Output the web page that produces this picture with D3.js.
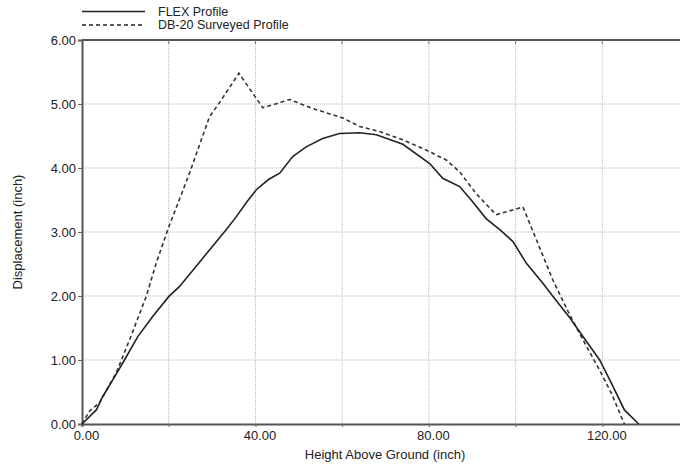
<!DOCTYPE html>
<html>
<head>
<meta charset="utf-8">
<script src="https://cdn.jsdelivr.net/npm/d3@7"></script>
<style>
  body { margin: 0; background: #fff; overflow: hidden; }
  svg { display: block; font-family: "Liberation Sans", Arial, sans-serif; }
</style>
</head>
<body>
<div id="chart"></div>
<script>
// FLEX profile (solid)
const flexHeight = [0, 3.3, 4.8, 7.1, 9.8, 12.9, 16.3, 20.0, 22.5, 26.3, 29.4, 33.3, 35.6, 38, 40.2, 43, 45.6, 48.6, 51.7, 55.5, 59.4, 64, 67.9, 74, 80.2, 83.2, 87.1, 90, 93.2, 96.5, 99.4, 102.5, 106.3, 109, 112.5, 115.5, 119.4, 122.1, 125.1, 128.4];
const flexDisp = [0, 0.22, 0.43, 0.69, 1.0, 1.37, 1.68, 1.99, 2.15, 2.46, 2.72, 3.04, 3.24, 3.47, 3.66, 3.82, 3.92, 4.18, 4.33, 4.46, 4.54, 4.55, 4.52, 4.37, 4.07, 3.84, 3.71, 3.48, 3.21, 3.03, 2.85, 2.51, 2.2, 1.96, 1.66, 1.37, 1.0, 0.64, 0.22, 0];

// DB-20 surveyed profile (dashed)
const surveyHeight = [0, 1.7, 4, 7.9, 11, 14.8, 17.1, 19.8, 24.8, 29.4, 31.3, 36.2, 41.7, 47.9, 53.2, 60.2, 64, 68.6, 74, 79.4, 84, 87.1, 90.9, 95.5, 101.7, 104.8, 108.6, 112.1, 115.5, 119.4, 122.1, 125.1];
const surveyDisp = [0, 0.2, 0.33, 0.8, 1.32, 1.99, 2.51, 3.04, 3.92, 4.80, 4.98, 5.48, 4.94, 5.07, 4.93, 4.78, 4.65, 4.57, 4.44, 4.28, 4.125, 3.94, 3.6, 3.27, 3.39, 2.88, 2.25, 1.76, 1.32, 0.84, 0.48, 0];

const xTicks = [0, 20, 40, 60, 80, 100, 120];
const xLabelTicks = [0, 40, 80, 120];
const yTicks = [0, 1, 2, 3, 4, 5, 6];

const seriesNames = ["FLEX Profile", "DB-20 Surveyed Profile"];

const margin = { top: 40, right: 0, bottom: 41, left: 82 };
const width = 607;
const height = 384;

const svg = d3.select("#chart")
    .append("svg")
    .attr("width", 680)
    .attr("height", 465);

const g = svg.append("g")
    .attr("transform", `translate(${margin.left},${margin.top})`);

const x = d3.scaleLinear().domain([0, 140]).range([0, width]);
const y = d3.scaleLinear().domain([0, 6]).range([height, 0]);

// grid
g.selectAll(".vgrid")
    .data(xTicks.filter(d => d > 0))
    .enter().append("line")
    .attr("x1", d => x(d)).attr("x2", d => x(d))
    .attr("y1", 0).attr("y2", height)
    .attr("stroke", "#b5b5b5")
    .attr("stroke-dasharray", "1,1");

g.selectAll(".hgrid")
    .data(yTicks.filter(d => d > 0 && d < 6))
    .enter().append("line")
    .attr("x1", 0).attr("x2", width)
    .attr("y1", d => y(d)).attr("y2", d => y(d))
    .attr("stroke", "#b5b5b5")
    .attr("stroke-dasharray", "1,1");

// axes
const yAxis = g.append("g")
    .call(d3.axisLeft(y).tickValues(yTicks).tickFormat(d3.format(".2f")).tickSize(4).tickPadding(2));

const xAxis = g.append("g")
    .attr("transform", `translate(0,${height})`)
    .call(d3.axisBottom(x).tickValues(xTicks).tickSize(3).tickPadding(4)
        .tickFormat(d => xLabelTicks.includes(d) ? d3.format(".2f")(d) : ""));

[yAxis, xAxis].forEach(a => {
    a.select(".domain").attr("stroke", "#555").attr("stroke-width", 2);
    a.selectAll(".tick line").attr("stroke", "#666");
    a.selectAll("text").attr("font-size", 13).attr("fill", "#222")
        .attr("font-family", "Liberation Sans, Arial, sans-serif");
});
xAxis.selectAll("text").attr("dx", 4);

// top frame
g.append("line")
    .attr("x1", 0).attr("x2", width)
    .attr("y1", 0).attr("y2", 0)
    .attr("stroke", "#555").attr("stroke-width", 2);
g.selectAll(".topTick")
    .data(xTicks.filter(d => d > 0))
    .enter().append("line")
    .attr("x1", d => x(d)).attr("x2", d => x(d))
    .attr("y1", 0).attr("y2", 4)
    .attr("stroke", "#777");

const line = d3.line()
    .x(d => x(d[0]))
    .y(d => y(d[1]));

const flex = flexHeight.map((h, i) => [h, flexDisp[i]]);
const survey = surveyHeight.map((h, i) => [h, surveyDisp[i]]);

g.append("path")
    .datum(survey)
    .attr("fill", "none")
    .attr("stroke", "#333")
    .attr("stroke-width", 1.6)
    .attr("stroke-dasharray", "4,3")
    .attr("d", line);

g.append("path")
    .datum(flex)
    .attr("fill", "none")
    .attr("stroke", "#222")
    .attr("stroke-width", 1.6)
    .attr("d", line);

// axis titles
svg.append("text")
    .attr("x", 385)
    .attr("y", 459)
    .attr("text-anchor", "middle")
    .attr("font-size", 13)
    .attr("fill", "#222")
    .text("Height Above Ground (inch)");

svg.append("text")
    .attr("transform", "rotate(-90)")
    .attr("x", -232)
    .attr("y", 22)
    .attr("text-anchor", "middle")
    .attr("font-size", 13)
    .attr("fill", "#222")
    .text("Displacement (inch)");

// legend
const legend = svg.selectAll(".legend")
    .data(seriesNames)
    .enter().append("g")
    .attr("class", "legend")
    .attr("transform", (d, i) => `translate(0,${11.5 + i * 13.5})`);

legend.append("line")
    .attr("x1", 82).attr("x2", 145)
    .attr("y1", 0).attr("y2", 0)
    .attr("stroke", "#222")
    .attr("stroke-width", 1.4)
    .attr("stroke-dasharray", (d, i) => i === 1 ? "4,3" : null);

legend.append("text")
    .attr("x", 158)
    .attr("y", 0)
    .attr("dy", "0.35em")
    .attr("font-size", 12.5)
    .attr("fill", "#222")
    .text(d => d);
</script>
</body>
</html>
